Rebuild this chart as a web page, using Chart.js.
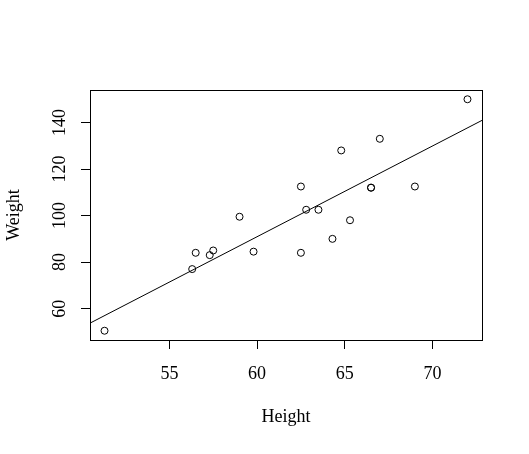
<!DOCTYPE html>
<html lang="en">
<head>
    <meta charset="UTF-8">
    <title>Weight vs Height</title>
    <script src="https://cdn.jsdelivr.net/npm/chart.js"></script>
    <style>
        body {
            margin: 0;
            background-color: #ffffff;
        }
        #wrap {
            width: 529px;
            height: 454px;
        }
    </style>
</head>
<body>
<div id="wrap">
    <canvas id="scatterChart" width="529" height="454"></canvas>
</div>

<script>
    // class data: height (in) and weight (lb)
    const heights = [69.0, 56.5, 65.3, 62.8, 63.5, 57.3, 59.8, 62.5, 62.5, 59.0,
                     51.3, 64.3, 56.3, 66.5, 72.0, 64.8, 67.0, 57.5, 66.5];
    const weights = [112.5, 84.0, 98.0, 102.5, 102.5, 83.0, 84.5, 112.5, 84.0, 99.5,
                     50.5, 90.0, 77.0, 112.0, 150.0, 128.0, 133.0, 85.0, 112.0];

    // fitted line (abline of lm(Weight ~ Height))
    const fitIntercept = -143.03;
    const fitSlope = 3.899;

    const xTicks = [55, 60, 65, 70];
    const yTicks = [60, 80, 100, 120, 140];
    const xRange = [50.472, 72.828];
    const yRange = [46.52, 153.98];

    const serif = "'Liberation Serif', 'Times New Roman', serif";

    const points = heights.map((h, i) => ({ x: h, y: weights[i] }));
    const fitLine = xRange.map(x => ({ x: x, y: fitIntercept + fitSlope * x }));

    // frame around the plot region + vertical y tick labels (R style)
    const rFrame = {
        id: 'rFrame',
        afterDraw(chart) {
            const ctx = chart.ctx;
            const a = chart.chartArea;
            ctx.save();
            ctx.strokeStyle = '#000';
            ctx.lineWidth = 1;
            ctx.strokeRect(Math.round(a.left) + 0.5, Math.round(a.top) + 0.5,
                Math.round(a.right - a.left), Math.round(a.bottom - a.top));

            const yScale = chart.scales.y;
            ctx.fillStyle = '#000';
            ctx.font = '18px ' + serif;
            ctx.textAlign = 'center';
            ctx.textBaseline = 'alphabetic';
            yTicks.forEach(v => {
                ctx.save();
                ctx.translate(65, yScale.getPixelForValue(v));
                ctx.rotate(-Math.PI / 2);
                ctx.fillText(String(v), 0, 0);
                ctx.restore();
            });
            ctx.restore();
        }
    };

    new Chart(document.getElementById('scatterChart'), {
        type: 'scatter',
        data: {
            datasets: [{
                data: points,
                pointStyle: 'circle',
                pointRadius: 3.5,
                pointHoverRadius: 3.5,
                borderWidth: 1,
                borderColor: '#000',
                backgroundColor: 'rgba(0,0,0,0)'
            }, {
                type: 'line',
                data: fitLine,
                borderColor: '#000',
                borderWidth: 1,
                pointRadius: 0,
                fill: false
            }]
        },
        options: {
            responsive: false,
            animation: false,
            events: [],
            layout: {
                padding: { top: 90, right: 47, left: 0, bottom: 0 }
            },
            plugins: {
                legend: { display: false },
                tooltip: { enabled: false }
            },
            scales: {
                x: {
                    type: 'linear',
                    min: xRange[0],
                    max: xRange[1],
                    afterBuildTicks: s => { s.ticks = xTicks.map(v => ({ value: v })); },
                    afterFit: s => { s.height = 114; },
                    border: { display: true, color: '#000', width: 1 },
                    grid: {
                        drawOnChartArea: false,
                        drawTicks: true,
                        tickLength: 9,
                        tickColor: '#000',
                        color: '#000'
                    },
                    ticks: {
                        color: '#000',
                        font: { family: serif, size: 18 },
                        padding: 14,
                        maxRotation: 0
                    },
                    title: {
                        display: true,
                        text: 'Height',
                        color: '#000',
                        font: { family: serif, size: 18 },
                        padding: { top: 0, bottom: 26 }
                    }
                },
                y: {
                    type: 'linear',
                    min: yRange[0],
                    max: yRange[1],
                    afterBuildTicks: s => { s.ticks = yTicks.map(v => ({ value: v })); },
                    afterFit: s => { s.width = 90; },
                    border: { display: true, color: '#000', width: 1 },
                    grid: {
                        drawOnChartArea: false,
                        drawTicks: true,
                        tickLength: 9,
                        tickColor: '#000',
                        color: '#000'
                    },
                    ticks: { display: false },
                    title: {
                        display: true,
                        text: 'Weight',
                        color: '#000',
                        font: { family: serif, size: 18 },
                        padding: { top: 3, bottom: 0 }
                    }
                }
            }
        },
        plugins: [rFrame]
    });
</script>
</body>
</html>
